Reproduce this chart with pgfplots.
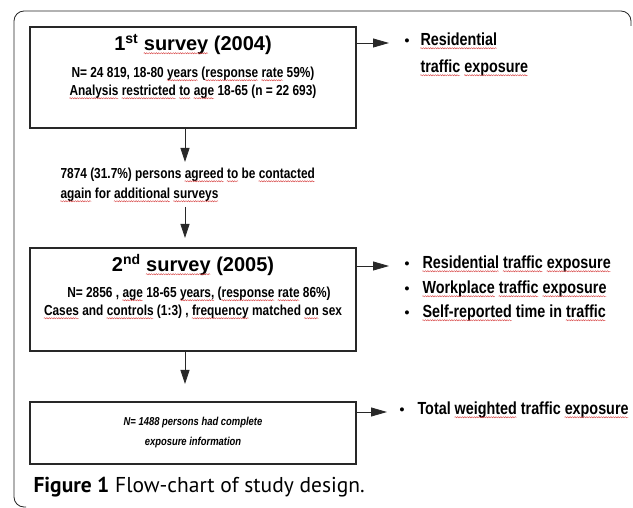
\documentclass[border=0pt]{standalone}
\usepackage{pgfplots}
\pgfplotsset{compat=1.18}
\usepackage{fontspec}
\usetikzlibrary{arrows.meta,decorations.pathmorphing}
\setmainfont{Liberation Sans}
\newfontfamily\nar[FakeStretch=0.82]{Liberation Sans}
\newfontfamily\capfont{PT Sans}
\definecolor{sqred}{RGB}{215,70,70}
\definecolor{boxc}{RGB}{40,40,40}
\newsavebox{\sqbox}
\newcommand{\sq}[1]{\sbox\sqbox{#1}\edef\sqw{\the\wd\sqbox}\usebox\sqbox\llap{\raisebox{-2.6pt}{\tikz[baseline=0pt]\draw[sqred,line width=0.45pt,decorate,decoration={snake,amplitude=0.6pt,segment length=2.4pt}] (0pt,0pt)--(\sqw,0pt);}}}
\tikzset{bt/.style={font=\nar\bfseries\fontsize{14.5}{17}\selectfont},
  rt/.style={font=\nar\bfseries\fontsize{17.5}{20}\selectfont},
  bul/.style={anchor=mid,font=\bfseries\fontsize{14}{16}\selectfont}}
\begin{document}
\begin{tikzpicture}
\begin{axis}[width=633pt,height=508pt,scale only axis,
  xmin=0,xmax=633,ymin=0,ymax=508,y dir=reverse,hide axis,clip=false]
% outer frame
\addplot[line width=0.8pt,black!85,rounded corners=10pt] coordinates {(26,507) (14,507) (14,11) (631,11) (631,26)};
% boxes
\addplot[line width=1.1pt,boxc,line join=miter] coordinates {(30,27) (356,27) (356,128) (30,128)} --cycle;
\addplot[line width=1.1pt,boxc,line join=miter] coordinates {(30,248) (356,248) (356,351) (30,351)} --cycle;
\addplot[line width=1.1pt,boxc,line join=miter] coordinates {(30,402) (356,402) (356,464) (30,464)} --cycle;
% down arrows
\addplot[line width=0.8pt,boxc,-{Triangle[length=14pt,width=9pt]}] coordinates {(185,128) (185,162)};
\addplot[line width=0.8pt,boxc,-{Triangle[length=14pt,width=9pt]}] coordinates {(185,207) (185,238)};
\addplot[line width=0.8pt,boxc,-{Triangle[length=14pt,width=9pt]}] coordinates {(185,351) (185,384)};
% right arrows
\addplot[line width=0.8pt,boxc,-{Triangle[length=16pt,width=9pt]}] coordinates {(356,43) (389,43)};
\addplot[line width=0.8pt,boxc,-{Triangle[length=16pt,width=9pt]}] coordinates {(356,266) (389,266)};
\addplot[line width=0.8pt,boxc,-{Triangle[length=16pt,width=9pt]}] coordinates {(356,412) (387,412)};
% box 1 text
\node[anchor=mid,font=\bfseries\fontsize{20}{24}\selectfont] at (axis cs:193,48) {1\textsuperscript{st} \sq{survey} (2004)};
\node[anchor=mid,bt] at (axis cs:193,75) {N= 24 819, 18-80 \sq{years} (\sq{response} \sq{rate} 59\%)};
\node[anchor=mid,bt] at (axis cs:193,93) {\sq{Analysis} \sq{restricted} \sq{to} \sq{age} 18-65 (n = 22 693)};
% middle text
\node[anchor=mid west,bt] at (axis cs:57,176) {7874 (31.7\%) persons \sq{agreed} \sq{to} be \sq{contacted}};
\node[anchor=mid west,bt] at (axis cs:57,196) {\sq{again} for \sq{additional} \sq{surveys}};
% box 2 text
\node[anchor=mid,font=\bfseries\fontsize{20}{24}\selectfont] at (axis cs:193,269) {2\textsuperscript{nd} \sq{survey} (2005)};
\node[anchor=mid,bt] at (axis cs:199,295) {N= 2856 , \sq{age} 18-65 \sq{years,} (\sq{response} \sq{rate} 86\%)};
\node[anchor=mid,bt] at (axis cs:193,313) {\sq{Cases} and \sq{controls} (1:3) , \sq{frequency} matched \sq{on} sex};
% box 3 text
\node[anchor=mid,font=\nar\bfseries\itshape\fontsize{11.5}{14}\selectfont] at (axis cs:193,423) {N= 1488 persons had complete};
\node[anchor=mid,font=\nar\bfseries\itshape\fontsize{11.5}{14}\selectfont] at (axis cs:193,443) {exposure information};
% bullets
\node[bul] at (axis cs:407,43) {•};
\node[anchor=mid west,rt] at (axis cs:417,43) {\sq{Residential}};
\node[anchor=mid west,rt] at (axis cs:417,70) {\sq{traffic} \sq{exposure}};
\node[bul] at (axis cs:407,266) {•};
\node[anchor=mid west,rt] at (axis cs:419,266) {\sq{Residential} \sq{traffic} \sq{exposure}};
\node[bul] at (axis cs:407,291) {•};
\node[anchor=mid west,rt] at (axis cs:419,291) {\sq{Workplace} \sq{traffic} \sq{exposure}};
\node[bul] at (axis cs:407,315) {•};
\node[anchor=mid west,rt] at (axis cs:419,315) {\sq{Self-reported} time in \sq{traffic}};
\node[bul] at (axis cs:402,412) {•};
\node[anchor=mid west,rt] at (axis cs:414,412) {Total \sq{weighted} traffic \sq{exposure}};
% caption
\node[anchor=mid west,font=\capfont\fontsize{21.5}{24}\selectfont] at (axis cs:30,490) {\textbf{Figure 1} Flow-chart of study design.};
\end{axis}
\pgfresetboundingbox
\path (current axis.south west) rectangle (current axis.north east);
\end{tikzpicture}
\end{document}
